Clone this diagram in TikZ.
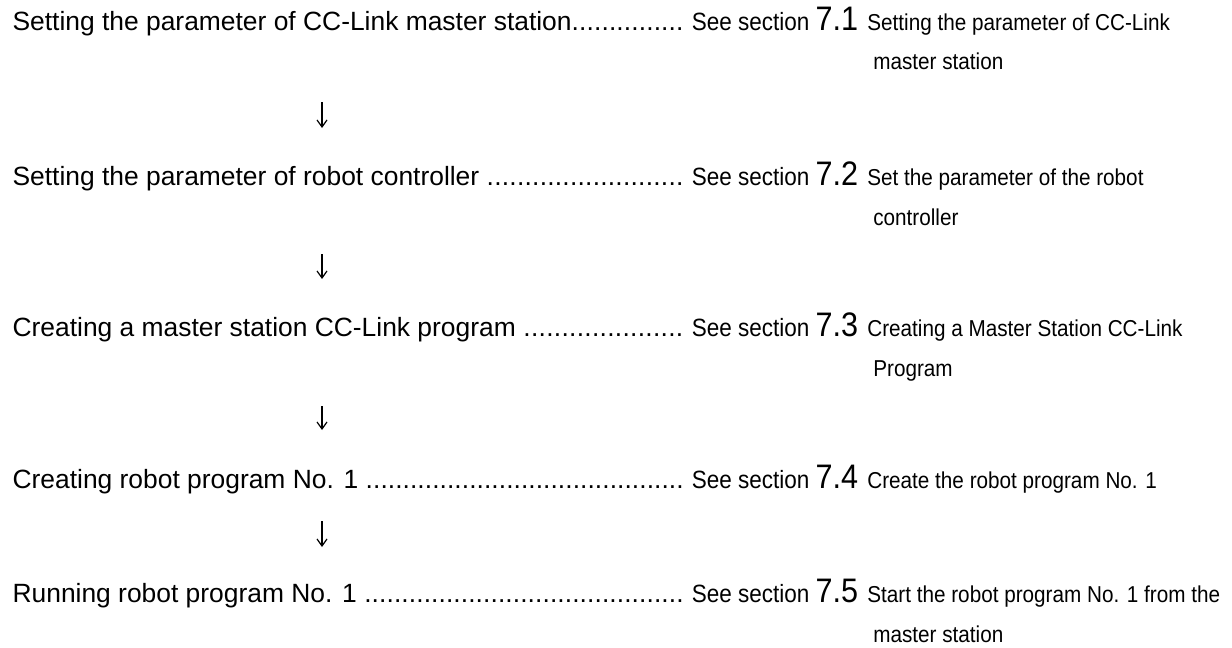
\documentclass[tikz,border=0pt]{standalone}
\usepackage{fontspec}
\setmainfont{Liberation Sans}
\newfontfamily\narrowsans[FakeStretch=0.9]{Liberation Sans}
\usetikzlibrary{arrows.meta}

\newcommand{\leadline}[1]{\hbox to 335.5pt{#1\xleaders\hbox{.}\hfill}}
\newcommand{\secno}[1]{{\fontsize{17}{19}\selectfont #1}}
\newcommand{\twolines}[2]{\vtop{\baselineskip=20pt\hbox{#1}\hbox{\hskip3pt #2}}}

\begin{document}
\begin{tikzpicture}[x=1pt, y=1pt, line width=0.6pt,
    stage/.style={anchor=base west, inner sep=0pt, font=\fontsize{13.2}{15}\selectfont},
    seeref/.style={anchor=base west, inner sep=0pt, font=\narrowsans\fontsize{12.5}{14}\selectfont},
    note/.style={anchor=base west, inner sep=0pt, font=\narrowsans\fontsize{11.5}{20}\selectfont},
    flow/.style={-{Straight Barb[length=3.5pt, width=5pt]}}]
    \useasboundingbox (0,0) rectangle (616,-324);

    % 第一步
    \node[stage] (s1) at (6,-15) {\leadline{Setting the parameter of CC-Link master station}};
    \node[seeref] (r1) at ([xshift=3.5pt]s1.base east) {See section \secno{7.1}};
    \node[note] (n1) at ([xshift=4pt]r1.base east) {\twolines{Setting the parameter of CC-Link}{master station}};

    % 第二步
    \node[stage] (s2) at (6,-92.5) {\leadline{Setting the parameter of robot controller }};
    \node[seeref] (r2) at ([xshift=3.5pt]s2.base east) {See section \secno{7.2}};
    \node[note] (n2) at ([xshift=4pt]r2.base east) {\twolines{Set the parameter of the robot}{controller}};

    % 第三步
    \node[stage] (s3) at (6,-168) {\leadline{Creating a master station CC-Link program }};
    \node[seeref] (r3) at ([xshift=3.5pt]s3.base east) {See section \secno{7.3}};
    \node[note] (n3) at ([xshift=4pt]r3.base east) {\twolines{Creating a Master Station CC-Link}{Program}};

    % 第四步
    \node[stage] (s4) at (6,-244) {\leadline{Creating robot program No. 1 }};
    \node[seeref] (r4) at ([xshift=3.5pt]s4.base east) {See section \secno{7.4}};
    \node[note] (n4) at ([xshift=4pt]r4.base east) {Create the robot program No. 1};

    % 第五步
    \node[stage] (s5) at (6,-301) {\leadline{Running robot program No. 1 }};
    \node[seeref] (r5) at ([xshift=3.5pt]s5.base east) {See section \secno{7.5}};
    \node[note] (n5) at ([xshift=4pt]r5.base east) {\twolines{Start the robot program No. 1 from the}{master station}};

    % 箭头
    \coordinate (a1) at (161,-51);    \coordinate (b1) at (161,-64);
    \coordinate (a2) at (161,-127);   \coordinate (b2) at (161,-139.5);
    \coordinate (a3) at (161,-203);   \coordinate (b3) at (161,-215);
    \coordinate (a4) at (161,-260.5); \coordinate (b4) at (161,-273.5);
    \draw[flow] (a1) -- (b1);
    \draw[flow] (a2) -- (b2);
    \draw[flow] (a3) -- (b3);
    \draw[flow] (a4) -- (b4);
\end{tikzpicture}
\end{document}
